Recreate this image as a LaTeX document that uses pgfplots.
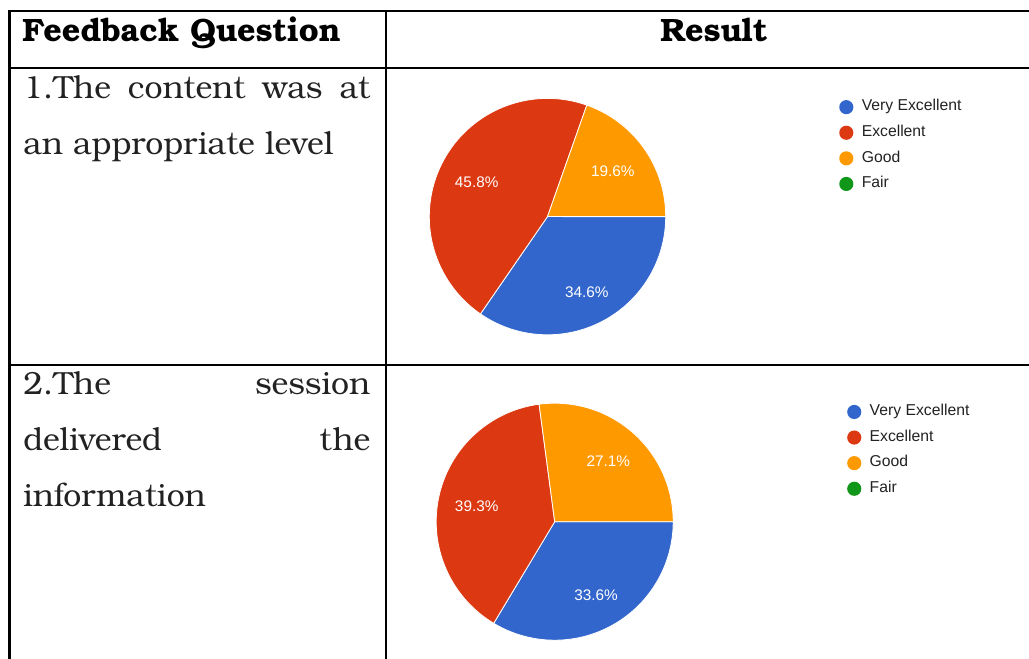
\documentclass[border=0pt]{standalone}
\usepackage{pgfplots}
\pgfplotsset{compat=1.18}
\usepackage{fontspec}
\setmainfont{texgyrebonum}[Extension=.otf, UprightFont=*-regular, BoldFont=*-bold, ItalicFont=*-italic, BoldItalicFont=*-bolditalic]
\newfontfamily\arialfont{Liberation Sans}

\definecolor{gblue}{HTML}{3366CC}
\definecolor{gred}{HTML}{DC3912}
\definecolor{gorange}{HTML}{FF9900}
\definecolor{ggreen}{HTML}{109618}
\definecolor{legtext}{HTML}{222222}
\definecolor{bodytext}{HTML}{222222}

% one slice: start share, share (percent), colour; clockwise from 3 o'clock
\newcommand{\pieslice}[3]{%
  \addplot[forget plot, fill=#3, draw=white, line width=0.6pt,
    domain=-3.6*#1-3.6*#2:-3.6*#1, samples=100]
    ({cos(x)},{sin(x)}) -- (axis cs:0,0) -- cycle;}

\pgfplotsset{
  pie/.style={
    width=177.3pt, height=177.3pt, scale only axis, hide axis,
    xmin=-1, xmax=1, ymin=-1, ymax=1, clip=false, anchor=center,
    legend cell align=left,
    legend image code/.code={\fill[##1, draw=none] (0pt,0pt) circle (5.3pt);},
    legend style={at={(1.733,0.994)}, anchor=north west, draw=none, fill=none,
      inner sep=0pt, row sep=8.6pt, column sep=6.3pt,
      font=\arialfont\fontsize{11.8}{13}\selectfont, text=legtext,
      nodes={inner sep=0pt, text height=8pt, text depth=2.5pt}},
  },
}
\tikzset{lbl/.style={font=\arialfont\fontsize{11.5}{13}\selectfont, text=white}}

\begin{document}
\begin{tikzpicture}[x=0.75pt, y=-0.75pt]
\useasboundingbox (0,0) rectangle (1029,659);

% table rules
\draw[line width=1.6pt] (9.5,11) -- (1040,11);
\draw[line width=1.6pt] (9.5,68) -- (1040,68);
\draw[line width=1.6pt] (9.5,365.3) -- (1040,365.3);
\draw[line width=1.6pt] (9.5,10) -- (9.5,670);
\draw[line width=1.6pt] (385.8,10) -- (385.8,670);

% header
\node[anchor=base west, inner sep=0pt, font=\bfseries\fontsize{24.2}{28}\selectfont] at (22,42) {Feedback Question};
\node[anchor=base, inner sep=0pt, font=\bfseries\fontsize{24.2}{28}\selectfont] at (714,42) {Result};

% question texts
\begin{scope}[every node/.style={anchor=base west, inner sep=0pt, text=bodytext, font=\fontsize{24}{28}\selectfont}]
\node at (23,99) {\makebox[260.25pt][s]{1.The content was at}};
\node at (23,155) {an appropriate level};
\node at (23,395) {\makebox[260.25pt][s]{2.The session}};
\node at (23,450.5) {\makebox[260.25pt][s]{delivered the}};
\node at (23,506.5) {information};
\end{scope}

% chart 1
\begin{axis}[pie, at={(410.625pt,-162.45pt)}]
\pieslice{0}{34.6}{gblue}
\pieslice{34.6}{45.8}{gred}
\pieslice{80.4}{19.6}{gorange}
\node[lbl] at (axis cs:0.332,-0.640) {34.6\%};
\node[lbl] at (axis cs:-0.599,0.295) {45.8\%};
\node[lbl] at (axis cs:0.552,0.380) {19.6\%};
\addlegendimage{fill=gblue}\addlegendentry{Very Excellent}
\addlegendimage{fill=gred}\addlegendentry{Excellent}
\addlegendimage{fill=gorange}\addlegendentry{Good}
\addlegendimage{fill=ggreen}\addlegendentry{Fair}
\end{axis}

% chart 2
\begin{axis}[pie, at={(416.025pt,-391.275pt)}, width=177.75pt, height=177.75pt]
\pieslice{0}{33.6}{gblue}
\pieslice{33.6}{39.3}{gred}
\pieslice{72.9}{27.1}{gorange}
\node[lbl] at (axis cs:0.349,-0.619) {33.6\%};
\node[lbl] at (axis cs:-0.658,0.132) {39.3\%};
\node[lbl] at (axis cs:0.452,0.512) {27.1\%};
\addlegendimage{fill=gblue}\addlegendentry{Very Excellent}
\addlegendimage{fill=gred}\addlegendentry{Excellent}
\addlegendimage{fill=gorange}\addlegendentry{Good}
\addlegendimage{fill=ggreen}\addlegendentry{Fair}
\end{axis}
\end{tikzpicture}
\end{document}
